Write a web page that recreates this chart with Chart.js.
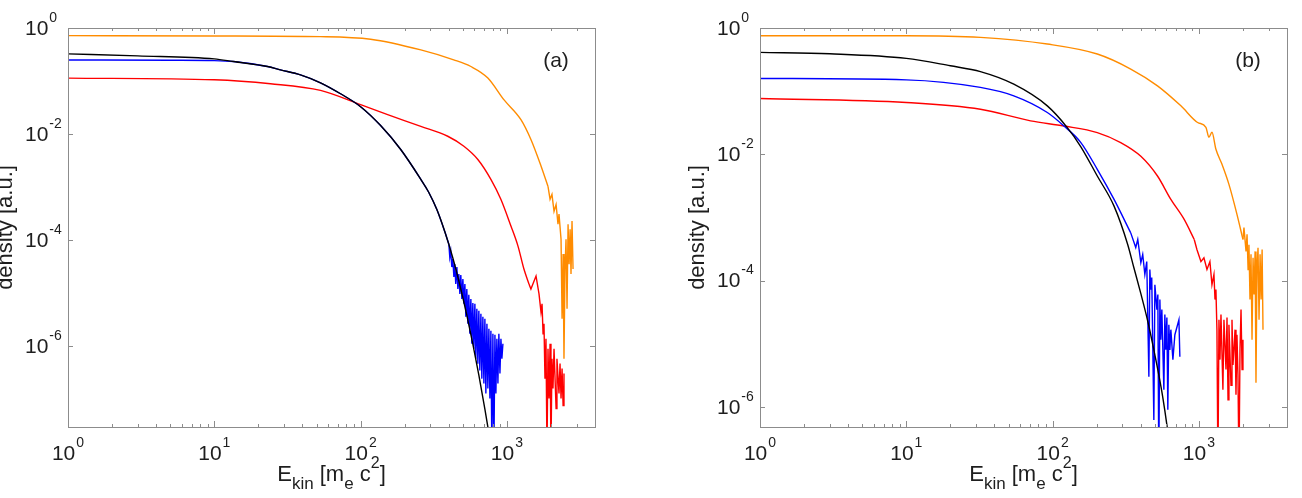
<!DOCTYPE html>
<html>
<head>
<meta charset="utf-8">
<script src="https://cdn.jsdelivr.net/npm/chart.js@4"></script>
<style>
  html, body { margin: 0; padding: 0; background: #fff; }
  #wrap { position: relative; width: 1302px; height: 498px; }
  canvas { position: absolute; top: 0; }
</style>
</head>
<body>
<div id="wrap">
  <canvas id="panelA" width="651" height="498" style="left:0"></canvas>
  <canvas id="panelB" width="651" height="498" style="left:651px"></canvas>
</div>
<script>
// ==== DATA : [E_kin (m_e c^2), density (a.u.)] ====
// each spectrum = smooth body + noisy high-energy tail (tail starts at the last body point)

// panel (a)
const aBlack = [[1,0.325],[3,0.298],[10,0.262],[13.5,0.233],[23.1,0.1876],[28.3,0.1626],[38.8,0.131],[53.2,0.0927],[72.9,0.0576],[100,0.0328],[137,0.01445],[188,0.00512],[258,0.0014],[292,8.0e-4],[332,3.77e-4],[376,1.45e-4],[427,4.6e-5],[484,1.2e-5],[532,3.85e-6],[585,1.1e-6],[643,2.84e-7],[707,6.5e-8],[753,2.3e-8]];
const aBlue = [[1,0.25],[5,0.247],[10,0.243],[13.5,0.233],[23.1,0.1876],[28.3,0.1626],[38.8,0.131],[53.2,0.0927],[72.9,0.0576],[100,0.0328],[137,0.01445],[188,0.00512],[258,0.0014],[292,8.0e-4],[332,3.77e-4],[376,1.45e-4],[401,8.4e-5]];
const aBlueTail = [[401,8.4e-5],[407,4.8e-5],[413,6.2e-5],[420,3.11e-5],[427,4.4e-5],[434,2.02e-5],[440,3.54e-5],[447,1.49e-5],[455,3.11e-5],[462,1.2e-5],[469,2.3e-5],[477,9.7e-6],[484,2.2e-5],[492,7.8e-6],[500,1.85e-5],[508,6.3e-6],[516,1.49e-5],[524,3.58e-6],[532,1.2e-5],[541,2.65e-6],[549,9.3e-6],[558,1.72e-6],[567,7.8e-6],[576,1.11e-6],[585,6.56e-6],[594,8.98e-7],[604,6.3e-6],[613,5.82e-7],[623,5.06e-6],[633,4.69e-7],[643,4.65e-6],[653,3.47e-7],[664,4.08e-6],[674,2.45e-7],[685,3.58e-6],[696,1.98e-7],[707,3.28e-6],[718,1.28e-7],[730,2.65e-6],[741,1.59e-7],[753,2.13e-6],[765,1.03e-7],[777,1.95e-6],[789,1e-8],[802,1.72e-6],[815,1e-8],[828,1.64e-6],[841,1.28e-7],[854,1.38e-6],[868,1.98e-7],[881,1.72e-6],[896,3.05e-7],[910,1.38e-6],[924,5.82e-7],[939,1.11e-6]];
const aRed = [[1,0.1136],[10,0.1055],[24.2,0.0888],[53.2,0.0665],[100,0.0358],[153,0.0232],[258,0.014],[394,0.0091],[508,0.0059],[633,0.00332],[777,0.0014],[909,5.9e-4],[1065,1.85e-4],[1189,7.8e-5],[1307,2.85e-5],[1415,1.49e-5]];
const aRedTail = [[1415,1.49e-5],[1459,1.2e-5],[1581,2.11e-5],[1657,9.7e-6],[1710,4.4e-6],[1738,6.3e-6],[1766,1.72e-6],[1792,2.65e-6],[1820,2.45e-7],[1849,1.38e-6],[1879,1e-8],[1909,9.0e-7],[1940,1.03e-7],[1972,1.11e-6],[2000,1e-8],[2032,5.8e-7],[2065,1.59e-7],[2099,9.0e-7],[2168,6.7e-8],[2198,5.8e-7],[2270,1.28e-7],[2307,4.7e-7],[2344,1.03e-7],[2382,3.8e-7],[2421,7.6e-8],[2455,3.05e-7]];
const aOrange = [[1,0.717],[10,0.708],[53.2,0.687],[117,0.614],[258,0.386],[433,0.251],[567,0.188],[741,0.114],[953,0.0445],[1247,0.0187],[1459,0.0079],[1710,0.0025],[1909,1.03e-3]];
const aOrangeTail = [[1909,1.03e-3],[1972,5.9e-4],[2032,7.3e-4],[2099,3.5e-4],[2168,4.7e-4],[2234,2.0e-4],[2270,3.1e-4],[2344,1.04e-4],[2382,3.3e-6],[2421,5.5e-5],[2455,5.8e-7],[2495,2.85e-5],[2535,1.04e-4],[2576,5.1e-6],[2618,2.0e-4],[2661,3.5e-5],[2704,1.6e-4],[2742,2.3e-5],[2786,2.3e-4],[2831,2.85e-5]];

// panel (b)
const bBlack = [[1,0.411],[3,0.39],[10,0.33],[20,0.252],[32.1,0.204],[54.3,0.129],[92,0.0585],[126,0.0265],[156,0.01315],[202,0.00453],[263,0.00151],[326,3.73e-4],[359,1.61e-4],[401,6.2e-5],[448,2.23e-5],[492,8.0e-6],[532,3.2e-6],[567,1.39e-6],[604,5.2e-7],[623,3.0e-7]];
const bBlue = [[1,0.159],[10,0.151],[32.1,0.1145],[54.3,0.0842],[92,0.0459],[119.5,0.0281],[156,0.01534],[202,0.00578],[263,0.00193],[342,5.7e-4]];
const bBlueTail = [[342,5.7e-4],[370,3.34e-4],[382,4.48e-4],[401,1.93e-4],[413,2.59e-4],[427,1.25e-4],[440,2.0e-4],[455,3.0e-6],[462,1.5e-4],[469,7.2e-5],[476,1.12e-4],[492,6.2e-7],[500,8.6e-5],[516,3.47e-5],[524,6.0e-5],[532,1e-7],[541,5.0e-5],[549,1.16e-5],[558,3.47e-5],[576,1.86e-6],[585,2.9e-5],[594,8.0e-6],[604,2.6e-5],[613,9.0e-7],[623,2.0e-5],[633,8.0e-6],[643,1.67e-5],[664,5.6e-6],[685,1.39e-5],[730,2.4e-5],[741,6.2e-6]];
const bRed = [[1,0.0766],[10,0.0662],[32.1,0.0518],[70.7,0.0338],[119.5,0.0281],[202,0.0221],[292,0.01534],[401,0.0093],[521,0.00453],[643,0.00193],[793,9.3e-4],[929,4.48e-4]];
const bRedTail = [[929,4.48e-4],[969,3.1e-4],[1032,2.0e-4],[1082,2.3e-4],[1135,1.5e-4],[1189,2.0e-4],[1228,8.6e-5],[1267,1.25e-4],[1288,5.0e-5],[1307,7.2e-5],[1328,1.67e-5],[1349,1e-7],[1371,2.4e-5],[1393,5.6e-6],[1415,2.9e-5],[1459,1.86e-6],[1483,2.4e-5],[1531,3.9e-6],[1556,2.6e-5],[1581,1.29e-6],[1604,2.0e-5],[1657,2.2e-6],[1683,2.4e-5],[1710,4.6e-6],[1766,1.67e-5],[1792,1.55e-6],[1820,1.39e-5],[1849,3.2e-6],[1879,1e-7],[1909,8.0e-6],[1940,3.47e-5],[1972,3.9e-6],[2000,1.16e-5]];
const bOrange = [[1,0.755],[10,0.755],[32.1,0.711],[92,0.557],[202,0.387],[342,0.224],[521,0.1214],[753,0.0585],[980,0.0319],[1117,0.0268],[1170,0.0186],[1228,0.0223],[1307,0.012],[1438,0.00694],[1604,0.00334],[1820,0.00112],[2000,4.48e-4]];
const bOrangeTail = [[2000,4.48e-4],[2032,6.9e-4],[2099,2.9e-4],[2133,5.4e-4],[2168,1.5e-4],[2198,3.7e-4],[2234,5.0e-5],[2270,2.6e-4],[2307,1.16e-5],[2344,2.3e-4],[2382,6.0e-5],[2421,2.9e-4],[2455,2.4e-6],[2495,1.6e-4],[2535,3.3e-4],[2576,2.4e-5],[2618,2.6e-4],[2661,5.0e-5],[2704,3.1e-4],[2742,1.67e-5]];

// axes
const xMin = 1, xMax = 4000;
const yMinA = 3.2e-8, yMinB = 4.8e-7, yMax = 1;
const xTickDecades = [1, 10, 100, 1000];
const yTickExps = [0, -2, -4, -6];

const FONT = '"Liberation Sans", Arial, Helvetica, sans-serif';
const AXIS_GREY = '#8c8c8c';
const TEXT = '#1e1e1e';
const COLORS = { black: '#000000', blue: '#0000ff', red: '#ff0000', orange: '#ff8c00' };

function toPts(arr) {
    return arr.map(p => ({ x: p[0], y: p[1] }));
}

// "10" with a raised exponent; align 'left' starts at x, otherwise centred on x
function drawPower(ctx, exp, x, y, align) {
    ctx.font = '21px ' + FONT;
    const wBase = ctx.measureText('10').width;
    ctx.font = '14px ' + FONT;
    const wExp = ctx.measureText(exp).width;
    const total = wBase + 1 + wExp;
    const x0 = align === 'left' ? x : x - total / 2;
    ctx.textAlign = 'left';
    ctx.textBaseline = 'middle';
    ctx.font = '21px ' + FONT;
    ctx.fillText('10', x0, y);
    ctx.font = '14px ' + FONT;
    ctx.fillText(exp, x0 + wBase + 1, y - 11);
}

// mixed text with sub/superscripts, centred on cx, baseline y
function drawRich(ctx, parts, cx, y) {
    let total = 0;
    parts.forEach(p => {
        ctx.font = p.size + 'px ' + FONT;
        p.w = ctx.measureText(p.t).width;
        total += p.w;
    });
    let x = cx - total / 2;
    ctx.textAlign = 'left';
    ctx.textBaseline = 'alphabetic';
    parts.forEach(p => {
        ctx.font = p.size + 'px ' + FONT;
        ctx.fillText(p.t, x, y + p.dy);
        x += p.w;
    });
}

const framePlugin = {
    id: 'frame',
    afterDraw(chart, args, opts) {
        const ctx = chart.ctx;
        const { left, right, top, bottom } = chart.chartArea;
        const xs = chart.scales.x, ys = chart.scales.y;
        ctx.save();

        // box
        ctx.strokeStyle = AXIS_GREY;
        ctx.lineWidth = 1;
        ctx.strokeRect(left + 0.5, top + 0.5, right - left, bottom - top);

        // ticks, pointing inward, mirrored
        ctx.beginPath();
        xTickDecades.forEach(d => {
            for (let m = 1; m <= 9; m++) {
                const v = m * d;
                if (v > xs.max) break;
                const px = Math.round(xs.getPixelForValue(v)) + 0.5;
                const len = m === 1 ? 6 : 3;
                ctx.moveTo(px, bottom); ctx.lineTo(px, bottom - len);
                ctx.moveTo(px, top); ctx.lineTo(px, top + len);
            }
        });
        yTickExps.forEach(e => {
            const v = Math.pow(10, e);
            if (v < ys.min) return;
            const py = Math.round(ys.getPixelForValue(v)) + 0.5;
            ctx.moveTo(left, py); ctx.lineTo(left + 5, py);
            ctx.moveTo(right, py); ctx.lineTo(right - 5, py);
        });
        ctx.stroke();

        // tick labels
        ctx.fillStyle = TEXT;
        xTickDecades.forEach(d => {
            const px = xs.getPixelForValue(d);
            drawPower(ctx, String(Math.round(Math.log10(d))), px, bottom + 27, 'center');
        });
        yTickExps.forEach(e => {
            const v = Math.pow(10, e);
            if (v < ys.min) return;
            drawPower(ctx, e === 0 ? '0' : '-' + (-e), left - 43, ys.getPixelForValue(v) + 1, 'left');
        });

        // x title
        drawRich(ctx, [
            { t: 'E', size: 22, dy: 0 },
            { t: 'kin', size: 17, dy: 8 },
            { t: ' [m', size: 22, dy: 0 },
            { t: 'e', size: 17, dy: 8 },
            { t: ' c', size: 22, dy: 0 },
            { t: '2', size: 16, dy: -13 },
            { t: ']', size: 22, dy: 0 }
        ], (left + right) / 2, bottom + 54);

        // y title
        ctx.save();
        ctx.translate(left - 62, (top + bottom) / 2);
        ctx.rotate(-Math.PI / 2);
        ctx.font = '22px ' + FONT;
        ctx.textAlign = 'center';
        ctx.textBaseline = 'middle';
        ctx.fillText('density [a.u.]', 0, 0);
        ctx.restore();

        // panel tag
        ctx.font = '21px ' + FONT;
        ctx.textAlign = 'center';
        ctx.textBaseline = 'middle';
        ctx.fillText(opts.tag, right - 39, top + 33);

        ctx.restore();
    }
};

function makePanel(id, series, yMin, pad, tag) {
    new Chart(document.getElementById(id), {
        type: 'scatter',
        data: {
            datasets: series.map(s => ({
                data: toPts(s.pts),
                borderColor: s.color,
                borderWidth: 1.4,
                showLine: true,
                pointRadius: 0,
                // smooth bodies, straight zig-zag for the noisy tails
                cubicInterpolationMode: s.noisy ? 'default' : 'monotone',
                tension: 0,
                fill: false
            }))
        },
        options: {
            responsive: false,
            animation: false,
            devicePixelRatio: 1,
            events: [],
            layout: { padding: pad },
            plugins: {
                legend: { display: false },
                tooltip: { enabled: false },
                frame: { tag: tag }
            },
            scales: {
                x: { type: 'logarithmic', min: xMin, max: xMax, display: false },
                y: { type: 'logarithmic', min: yMin, max: yMax, display: false }
            }
        },
        plugins: [framePlugin]
    });
}

// first dataset is drawn on top
makePanel('panelA', [
    { pts: aBlack, color: COLORS.black },
    { pts: aBlue, color: COLORS.blue },
    { pts: aBlueTail, color: COLORS.blue, noisy: true },
    { pts: aRed, color: COLORS.red },
    { pts: aRedTail, color: COLORS.red, noisy: true },
    { pts: aOrange, color: COLORS.orange },
    { pts: aOrangeTail, color: COLORS.orange, noisy: true }
], yMinA, { left: 68, top: 28, right: 56, bottom: 71 }, '(a)');

makePanel('panelB', [
    { pts: bBlack, color: COLORS.black },
    { pts: bBlue, color: COLORS.blue },
    { pts: bBlueTail, color: COLORS.blue, noisy: true },
    { pts: bRed, color: COLORS.red },
    { pts: bRedTail, color: COLORS.red, noisy: true },
    { pts: bOrange, color: COLORS.orange },
    { pts: bOrangeTail, color: COLORS.orange, noisy: true }
], yMinB, { left: 109, top: 28, right: 15, bottom: 71 }, '(b)');
</script>
</body>
</html>
